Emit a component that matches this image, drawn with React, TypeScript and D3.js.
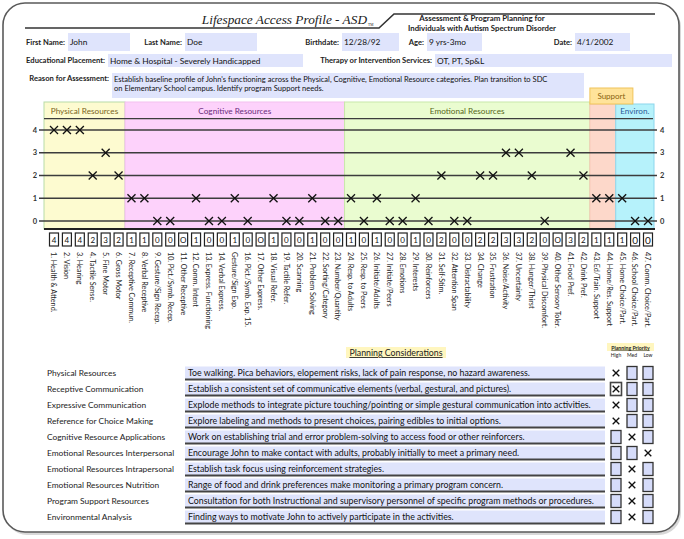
import React from 'react';
import * as d3 from 'd3';

const W = 684;
const H = 539;
const FONT = 'Lato, "Liberation Sans", sans-serif';

// ---------- data ----------
const itemLabels = [
  '1. Health & Attend.', '2. Vision', '3. Hearing', '4. Tactile Sense.', '5. Fine Motor', '6. Gross Motor',
  '7. Receptive Commun.', '8. Verbal Receptive', '9. Gesture/Sign Recep.', '10. Pict./Symb. Recep.',
  '11. Other Receptive', '12. Comm. Intent', '13. Express. Functioning', '14. Verbal Express.',
  'Gesture/Sign Exp.', '16. Pict./Symb. Exp. 15.', '17. Other Express.', '18. Visual Refer.',
  '19. Tactile Refer.', '20. Scanning', '21. Problem Solving', '22. Sorting/Category', '23. Number/Quantity',
  '24. Resp. to Adults', '25. Resp. to Peers', '26. Initiate/Adults', '27. Initiate/Peers', '28. Emotions',
  '29. Interests', '30. Reinforcers', '31. Self-Stim.', '32. Attention Span', '33. Distractability',
  '34. Change', '35. Frustration', '36. Noise/Activity', '37. Uncertainty', '38. Hunger/Thirst',
  '39. Physical Discomfort.', '40. Other Sensory Toler.', '41. Food Pref.', '42. Drink Pref.',
  '43. Ed/Train. Support', '44. Home/Res. Support', '45. Home Choice/Part.', '46. School Choice/Part.',
  '47. Comm. Choice/Part.',
];
// null = "O" (not observed, no mark on the chart)
const itemScores: (number | null)[] = [
  4, 4, 4, 2, 3, 2,
  1, 1, 0, 0, null, 1, 0, 0, 1, 0, null, 1, 0, 0, 1, 0, 0,
  1, 0, 1, 0, 0, 1, 0, 2, 0, 0, 2, 2, 3, 3, 2, 0, null, 3, 2,
  1, 1,
  1, 0, 0,
];
const levels = [0, 1, 2, 3, 4];

const categoryNames = ['Physical Resources', 'Cognitive Resources', 'Emotional Resources', 'Support', 'Environ.'];
const categoryFirst = [1, 7, 24, 43, 45];
const categoryLast = [6, 23, 42, 44, 47];

const formLabels = ['First Name:', 'Last Name:', 'Birthdate:', 'Age:', 'Date:', 'Educational Placement:', 'Therapy or Intervention Services:', 'Reason for Assessment:'];
const formValues = ['John', 'Doe', '12/28/92', '9 yrs-3mo', '4/1/2002', 'Home & Hospital - Severely Handicapped', 'OT, PT, Sp&L'];
const reasonLines = [
  "Establish baseline profile of John's functioning across the Physical, Cognitive, Emotional Resource categories. Plan transition to SDC",
  'on Elementary School campus. Identify program Support needs.',
];

const planningAreas = [
  'Physical Resources', 'Receptive Communication', 'Expressive Communication', 'Reference for Choice Making',
  'Cognitive Resource Applications', 'Emotional Resources Interpersonal', 'Emotional Resources Intrapersonal',
  'Emotional Resources Nutrition', 'Program Support Resources', 'Environmental Analysis',
];
const planningNotes = [
  'Toe walking. Pica behaviors, elopement risks, lack of pain response, no hazard awareness.',
  'Establish a consistent set of communicative elements (verbal, gestural, and pictures).',
  'Explode methods to integrate picture touching/pointing or simple gestural communication into activities.',
  'Explore labeling and methods to present choices, pairing edibles to initial options.',
  'Work on establishing trial and error problem-solving to access food or other reinforcers.',
  'Encourage John to make contact with adults, probably initially to meet a primary need.',
  'Establish task focus using reinforcement strategies.',
  'Range of food and drink preferences make monitoring a primary program concern.',
  'Consultation for both Instructional and supervisory personnel of specific program methods or procedures.',
  'Finding ways to motivate John to actively participate in the activities.',
];
const priorityLevels = ['High', 'Med', 'Low'];
const planningPriority = ['High', 'High', 'High', 'High', 'Med', 'Low', 'Med', 'Med', 'Med', 'Med'];

// ---------- styles / layout ----------
const catFill = ['#fdfbd0', '#fdd2fb', '#eafcd0', '#fdd8ca', '#b6f2fb'];
const catStroke = ['#b8dca8', '#f3bff0', '#c8e8aa', '#f6c6b4', '#8cd6ec'];
const catText = ['#7a6420', '#6b2c7c', '#56681a', '#8a6410', '#2c5a98'];
const fieldFill = '#dfe4fc';
const lineCol = '#3c3c3c';

const X0 = 44, X1 = 655;
const xs = d3.scalePoint<number>().domain(d3.range(1, 48)).range([54, 648]);
const step = xs.step();
const ys = d3.scaleLinear().domain([0, 4]).range([221, 130]);
const bandTop = 102;
const chartBottom = 229;

const formFieldBoxes = [
  [68, 130], [185, 257], [342, 399], [427, 482], [575, 630], [108, 303], [435, 672],
];
const formRows = [0, 0, 0, 0, 0, 1, 1, 2];
const rowTop = [33, 54, 73];
const rowH = [18, 13, 25];

const planY0 = 373;
const planDY = 16;
const prioX = d3.scalePoint<string>().domain(priorityLevels).range([616, 648]);

function Cross({ cx, cy, r }: { cx: number; cy: number; r: number }) {
  return (
    <g stroke="#111" strokeWidth={1.3}>
      <line x1={cx - r} y1={cy - r} x2={cx + r} y2={cy + r} />
      <line x1={cx - r} y1={cy + r} x2={cx + r} y2={cy - r} />
    </g>
  );
}

export default function App() {
  const bandEdges = categoryNames.map((_, i) => {
    const left = i === 0 ? X0 : (xs(categoryFirst[i]) as number) - step / 2;
    const right = i === categoryNames.length - 1 ? X1 - 1 : (xs(categoryLast[i]) as number) + step / 2;
    return [left, right];
  });

  return (
    <svg width={W} height={H} style={{ position: 'absolute', left: 0, top: 0, background: '#fff' }} fontFamily={FONT}>
      {/* frame */}
      <rect x={5} y={5} width={676} height={530} rx={22} fill="#d8d8d8" />
      <rect x={3} y={3} width={676} height={529} rx={22} fill="#fff" stroke="#5a5a5a" strokeWidth={1.6} />

      {/* title */}
      <text x={367} y={24} textAnchor="end" fontFamily='"Liberation Serif", "DejaVu Serif", serif' fontStyle="italic" fontSize={13.3} fill="#222">
        Lifespace Access Profile - ASD
      </text>
      <text x={368} y={25.5} fontFamily='"Liberation Serif", serif' fontSize={3.6} fill="#222">TM</text>
      <polyline points="25,28 379,28 394,14 655,14" fill="none" stroke="#333" strokeWidth={1.6} />
      <text x={482} y={21} textAnchor="middle" fontSize={7.9} fontWeight={700} fill="#222">Assessment &amp; Program Planning for</text>
      <text x={482} y={31} textAnchor="middle" fontSize={7.8} fontWeight={700} fill="#222">Individuals with Autism Spectrum Disorder</text>

      {/* form fields */}
      {formFieldBoxes.map(([a, b], i) => {
        const r = formRows[i];
        return (
          <g key={'f' + i}>
            <rect x={a} y={rowTop[r]} width={b - a} height={rowH[r]} fill={fieldFill} />
            <text x={a + 2} y={rowTop[r] + rowH[r] / 2 + 3} fontSize={8.3} fill="#111">{formValues[i]}</text>
            <text x={a - 3} y={rowTop[r] + rowH[r] / 2 + 2.6} fontSize={7.6} fontWeight={700} textAnchor="end" fill="#222">{formLabels[i]}</text>
          </g>
        );
      })}
      <rect x={112} y={rowTop[2]} width={472} height={rowH[2]} fill={fieldFill} />
      <text x={109} y={81} fontSize={7.6} fontWeight={700} textAnchor="end" fill="#222">{formLabels[7]}</text>
      {reasonLines.map((l, i) => (
        <text key={'r' + i} x={114} y={81.5 + i * 9} fontSize={7.55} fill="#111">{l}</text>
      ))}

      {/* category bands */}
      {categoryNames.map((name, i) => {
        const [l, r] = bandEdges[i];
        const top = i >= 3 ? 104 : bandTop;
        return (
          <g key={'c' + i}>
            <rect x={l} y={top} width={r - l} height={chartBottom - top} fill={catFill[i]} stroke={catStroke[i]} strokeWidth={1} />
            {i !== 3 && (
              <text x={(l + r) / 2} y={114} textAnchor="middle" fontSize={8.2} fill={catText[i]}>{name}</text>
            )}
          </g>
        );
      })}
      {/* support tab */}
      <rect x={bandEdges[3][0]} y={88} width={43} height={16} fill="#ffe39a" stroke="#f0c45a" strokeWidth={1} />
      <text x={bandEdges[3][0] + 21.5} y={99} textAnchor="middle" fontSize={8} fill={catText[3]}>{categoryNames[3]}</text>

      {/* level lines */}
      <line x1={X0} x2={X1 - 2} y1={ys(4.5)} y2={ys(4.5)} stroke={lineCol} strokeWidth={1.3} />
      {levels.map(v => (
        <g key={'l' + v}>
          <line x1={39} x2={657} y1={ys(v)} y2={ys(v)} stroke={lineCol} strokeWidth={1.3} />
          <text x={37} y={ys(v) + 2.6} textAnchor="end" fontSize={7.5} fontWeight={700} fill="#333">{v}</text>
          <text x={660} y={ys(v) + 2.6} textAnchor="start" fontSize={7.5} fontWeight={700} fill="#333">{v}</text>
        </g>
      ))}
      <line x1={X0} x2={X1} y1={chartBottom} y2={chartBottom} stroke="#222" strokeWidth={2} />

      {/* marks */}
      {itemScores.map((s, i) =>
        s === null ? null : <Cross key={'x' + i} cx={xs(i + 1) as number} cy={ys(s)} r={4} />
      )}

      {/* value boxes and labels */}
      {itemScores.map((s, i) => {
        const cx = xs(i + 1) as number;
        const big = i >= 45;
        return (
          <g key={'b' + i}>
            <rect x={cx - 4.5} y={233} width={9} height={13} fill="#fff" stroke="#222" strokeWidth={1.2} />
            <text x={cx} y={big ? 243.5 : 242.5} textAnchor="middle" fontSize={big ? 10 : 8} fill="#111">{s === null ? 'O' : s}</text>
            <text transform={`translate(${cx - 2.6},252) rotate(90)`} fontSize={7.2} fill="#222">{itemLabels[i]}</text>
          </g>
        );
      })}

      {/* planning considerations */}
      <rect x={346} y={347} width={100} height={11} fill="#fff6bf" />
      <text x={396} y={356} textAnchor="middle" fontSize={8.8} fill="#222" textDecoration="underline">Planning Considerations</text>
      <rect x={607} y={343} width={47} height={8} fill="#fff6bf" />
      <text x={630.5} y={349.5} textAnchor="middle" fontSize={5.2} fontWeight={700} fill="#222" textDecoration="underline">Planning Priority</text>
      {priorityLevels.map(p => (
        <text key={'p' + p} x={prioX(p) as number} y={356.5} textAnchor="middle" fontSize={5} fill="#222">{p}</text>
      ))}

      {planningAreas.map((a, i) => {
        const cy = planY0 + i * planDY;
        return (
          <g key={'pl' + i}>
            <text x={47} y={cy + 2.8} fontSize={8.4} fill="#222">{a}</text>
            <rect x={185} y={cy - 6.5} width={420} height={12.5} fill={fieldFill} />
            <line x1={185} x2={605} y1={cy + 6.5} y2={cy + 6.5} stroke="#444" strokeWidth={1.8} />
            <text x={188} y={cy + 3.2} fontSize={8.8} fill="#111">{planningNotes[i]}</text>
            {priorityLevels.map(p => {
              const px = prioX(p) as number;
              const checked = planningPriority[i] === p;
              if (checked) {
                return (
                  <g key={p}>
                    {i === 1 && <rect x={px - 5.5} y={cy - 6.5} width={11} height={13} fill="#fff" stroke="#444" strokeWidth={1.6} />}
                    <Cross cx={px} cy={cy} r={3.3} />
                  </g>
                );
              }
              return <rect key={p} x={px - 5} y={cy - 6.5} width={10} height={13} fill="#d6dcfa" stroke="#333" strokeWidth={1.3} />;
            })}
          </g>
        );
      })}
    </svg>
  );
}
